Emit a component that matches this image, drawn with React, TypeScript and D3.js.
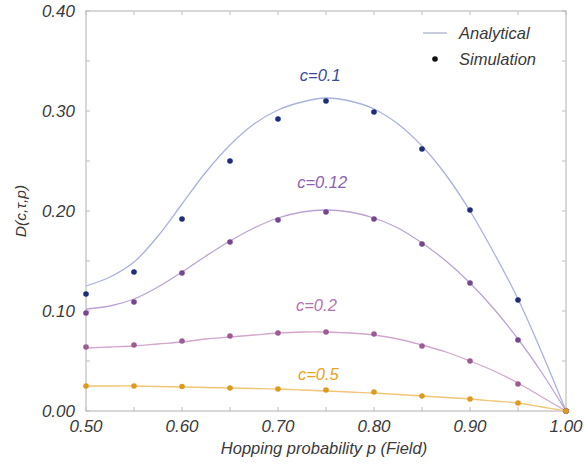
import React, { useEffect, useRef } from 'react'
import * as d3 from 'd3'

// simulation points, p = 0.50 .. 1.00 step 0.05
const simP = [0.5, 0.55, 0.6, 0.65, 0.7, 0.75, 0.8, 0.85, 0.9, 0.95, 1.0]
const sim01  = [0.117, 0.139, 0.192, 0.250, 0.292, 0.310, 0.299, 0.262, 0.201, 0.111, 0]
const sim012 = [0.098, 0.109, 0.138, 0.169, 0.191, 0.199, 0.192, 0.167, 0.128, 0.071, 0]
const sim02  = [0.064, 0.066, 0.070, 0.075, 0.078, 0.079, 0.077, 0.065, 0.050, 0.027, 0]
const sim05  = [0.025, 0.025, 0.0245, 0.023, 0.022, 0.021, 0.019, 0.015, 0.012, 0.008, 0]

// analytical curves, p = 0.500 .. 1.000 step 0.025
const curveP = [0.5, 0.525, 0.55, 0.575, 0.6, 0.625, 0.65, 0.675, 0.7, 0.725, 0.75,
  0.775, 0.8, 0.825, 0.85, 0.875, 0.9, 0.925, 0.95, 0.975, 1.0]
const ana01  = [0.125, 0.134, 0.149, 0.175, 0.207, 0.239, 0.266, 0.287, 0.301, 0.309, 0.313,
  0.310, 0.302, 0.287, 0.265, 0.236, 0.200, 0.158, 0.112, 0.058, 0]
const ana012 = [0.102, 0.105, 0.112, 0.124, 0.139, 0.155, 0.170, 0.183, 0.193, 0.199, 0.201,
  0.199, 0.193, 0.183, 0.168, 0.150, 0.128, 0.102, 0.072, 0.038, 0]
const ana02  = [0.063, 0.064, 0.065, 0.067, 0.069, 0.072, 0.074, 0.076, 0.078, 0.079, 0.079,
  0.078, 0.076, 0.072, 0.066, 0.059, 0.050, 0.040, 0.028, 0.014, 0]
const ana05  = [0.025, 0.025, 0.025, 0.0245, 0.024, 0.0235, 0.023, 0.0225, 0.022, 0.021, 0.020,
  0.019, 0.018, 0.0165, 0.015, 0.0135, 0.012, 0.010, 0.008, 0.004, 0]

const SERIES = [
  { label: 'c=0.1',  sim: sim01,  ana: ana01,  dot: '#1f2d7a', line: '#a9b1de', text: '#3b4a9c', lx: 0.744, ly: 0.330 },
  { label: 'c=0.12', sim: sim012, ana: ana012, dot: '#74478e', line: '#bba3d3', text: '#8a62ad', lx: 0.746, ly: 0.223 },
  { label: 'c=0.2',  sim: sim02,  ana: ana02,  dot: '#9c5c93', line: '#d3a6cc', text: '#b273b0', lx: 0.740, ly: 0.100 },
  { label: 'c=0.5',  sim: sim05,  ana: ana05,  dot: '#dc9b1e', line: '#f0c676', text: '#e6a324', lx: 0.742, ly: 0.031 },
]

const xTickLabels = [0.5, 0.6, 0.7, 0.8, 0.9, 1.0]
const yTickLabels = [0, 0.1, 0.2, 0.3, 0.4]

const W = 584
const H = 466
const FONT = '"Liberation Sans", Arial, sans-serif'
const AXIS_COLOR = '#bdbdbd'
const TEXT_COLOR = '#3a3a3a'

export default function App() {
  const svgRef = useRef<SVGSVGElement>(null)

  useEffect(() => {
    if (!svgRef.current) return
    const svg = d3.select(svgRef.current)
    svg.selectAll('*').remove()

    const left = 86, right = 566, top = 11, bottom = 411
    const x = d3.scaleLinear().domain([0.5, 1.0]).range([left, right])
    const y = d3.scaleLinear().domain([0, 0.4]).range([bottom, top])

    svg.append('rect').attr('width', W).attr('height', H).attr('fill', '#fff')

    // frame
    svg.append('rect')
      .attr('x', left).attr('y', top)
      .attr('width', right - left).attr('height', bottom - top)
      .attr('fill', 'none').attr('stroke', AXIS_COLOR).attr('stroke-width', 1.2)

    // inward ticks on all sides, every 0.05
    const tl = 4
    d3.range(0.5, 1.0001, 0.05).forEach(v => {
      const xx = x(v)
      svg.append('line').attr('x1', xx).attr('x2', xx).attr('y1', bottom).attr('y2', bottom - tl)
        .attr('stroke', AXIS_COLOR)
      svg.append('line').attr('x1', xx).attr('x2', xx).attr('y1', top).attr('y2', top + tl)
        .attr('stroke', AXIS_COLOR)
    })
    d3.range(0, 0.4001, 0.05).forEach(v => {
      const yy = y(v)
      svg.append('line').attr('x1', left).attr('x2', left + tl).attr('y1', yy).attr('y2', yy)
        .attr('stroke', AXIS_COLOR)
      svg.append('line').attr('x1', right).attr('x2', right - tl).attr('y1', yy).attr('y2', yy)
        .attr('stroke', AXIS_COLOR)
    })

    // tick labels
    xTickLabels.forEach(v => {
      svg.append('text')
        .attr('x', x(v)).attr('y', bottom + 21)
        .attr('text-anchor', 'middle').attr('fill', TEXT_COLOR)
        .attr('font-size', 17).attr('font-style', 'italic').attr('font-family', FONT)
        .text(v.toFixed(2))
    })
    yTickLabels.forEach(v => {
      svg.append('text')
        .attr('x', left - 11).attr('y', y(v) + 6)
        .attr('text-anchor', 'end').attr('fill', TEXT_COLOR)
        .attr('font-size', 17).attr('font-style', 'italic').attr('font-family', FONT)
        .text(v.toFixed(2))
    })

    // axis titles
    svg.append('text')
      .attr('x', (left + right) / 2 - 2).attr('y', bottom + 43)
      .attr('text-anchor', 'middle').attr('fill', TEXT_COLOR)
      .attr('font-size', 16.5).attr('font-style', 'italic').attr('font-family', FONT)
      .text('Hopping probability p (Field)')
    svg.append('text')
      .attr('transform', `translate(26,211) rotate(-90)`)
      .attr('text-anchor', 'middle').attr('fill', TEXT_COLOR)
      .attr('font-size', 15.5).attr('font-style', 'italic').attr('font-family', FONT)
      .text('D(c,τ,p)')

    const line = d3.line<number>()
      .x((_, i) => x(curveP[i]))
      .y(d => y(d))
      .curve(d3.curveCatmullRom.alpha(0.5))

    SERIES.forEach(s => {
      svg.append('path')
        .attr('d', line(s.ana))
        .attr('fill', 'none').attr('stroke', s.line).attr('stroke-width', 1.3)
    })
    SERIES.forEach(s => {
      s.sim.forEach((v, i) => {
        svg.append('circle')
          .attr('cx', x(simP[i])).attr('cy', y(v)).attr('r', 2.8)
          .attr('fill', s.dot)
      })
      svg.append('text')
        .attr('x', x(s.lx)).attr('y', y(s.ly))
        .attr('text-anchor', 'middle').attr('fill', s.text)
        .attr('font-size', 16.5).attr('font-style', 'italic').attr('font-family', FONT)
        .text(s.label)
    })

    // legend
    svg.append('line').attr('x1', 423).attr('x2', 447).attr('y1', 33).attr('y2', 33)
      .attr('stroke', '#b7bccf').attr('stroke-width', 1.5)
    svg.append('text').attr('x', 459).attr('y', 39)
      .attr('fill', TEXT_COLOR).attr('font-size', 16.5).attr('font-style', 'italic').attr('font-family', FONT)
      .text('Analytical')
    svg.append('circle').attr('cx', 435).attr('cy', 59).attr('r', 2.8).attr('fill', '#111')
    svg.append('text').attr('x', 459).attr('y', 65)
      .attr('fill', TEXT_COLOR).attr('font-size', 16.5).attr('font-style', 'italic').attr('font-family', FONT)
      .text('Simulation')
  }, [])

  return (
    <svg ref={svgRef} width={W} height={H}
      style={{ position: 'absolute', left: 0, top: 0, display: 'block' }} />
  )
}
